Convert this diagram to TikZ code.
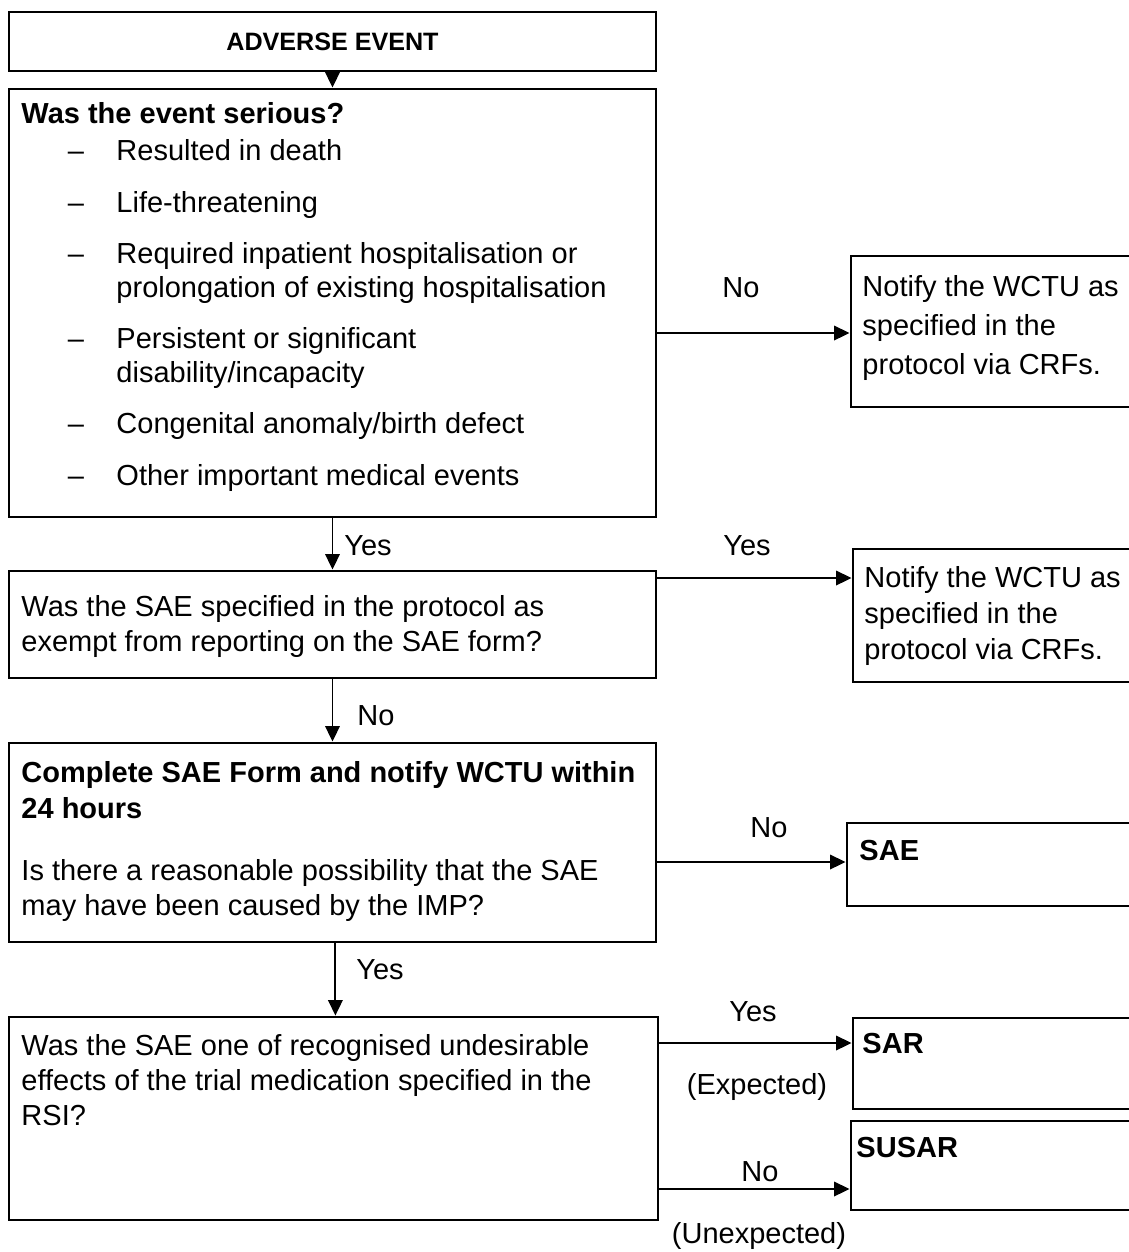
\documentclass[tikz,border=0pt]{standalone}
\usepackage{fontspec}
\setmainfont{Liberation Sans}
\usetikzlibrary{arrows.meta,fit}
\newcommand\myBody{\fontsize{12}{14}\selectfont}
\newcommand\myTitle{\fontsize{10.4}{12}\selectfont\bfseries}
\begin{document}
\begin{tikzpicture}[x=0.4138pt, y=-0.4138pt,
  box/.style={draw, line width=1.2pt, inner sep=0pt},
  arr/.style={line width=0.75pt, -{Triangle[length=6.4pt,width=6pt]}},
  txt/.style={anchor=base west, inner sep=0pt, font=\myBody},
  btxt/.style={anchor=base west, inner sep=0pt, font=\myBody\bfseries},
  dsh/.style={anchor=base, inner sep=0pt, font=\myBody},
  lbl/.style={anchor=base, inner sep=0pt, font=\myBody}]
\useasboundingbox (0,0) rectangle (1128,1252);

% boxes
\node[box, fit={(9,12) (656,71)}] (A) {};
\node[box, fit={(9,89) (656,517)}] (B) {};
\node[box, fit={(851,256) (1131,407)}] (C) {};
\node[box, fit={(9,571) (656,678)}] (D) {};
\node[box, fit={(853,549) (1131,682)}] (E) {};
\node[box, fit={(9,743) (656,942)}] (F) {};
\node[box, fit={(847,823) (1131,906)}] (G) {};
\node[box, fit={(9,1017) (658,1220)}] (H) {};
\node[box, fit={(853,1018) (1131,1109)}] (I) {};
\node[box, fit={(851,1121) (1131,1210)}] (J) {};

% texts
\node[font=\myTitle, inner sep=0pt] (Atxt) at (A.center) {ADVERSE EVENT};

\node[btxt] (B0) at (21,123) {Was the event serious?};
\node[dsh] (Bd1) at (76,160) {–};
\node[txt] (B1) at (116,160) {Resulted in death};
\node[dsh] (Bd2) at (76,212) {–};
\node[txt] (B2) at (116,212) {Life-threatening};
\node[dsh] (Bd3) at (76,263) {–};
\node[txt] (B3a) at (116,263) {Required inpatient hospitalisation or};
\node[txt] (B3b) at (116,297) {prolongation of existing hospitalisation};
\node[dsh] (Bd4) at (76,348) {–};
\node[txt] (B4a) at (116,348) {Persistent or significant};
\node[txt] (B4b) at (116,382) {disability/incapacity};
\node[dsh] (Bd5) at (76,433) {–};
\node[txt] (B5) at (116,433) {Congenital anomaly/birth defect};
\node[dsh] (Bd6) at (76,485) {–};
\node[txt] (B6) at (116,485) {Other important medical events};

\node[txt] (C1) at (862,296) {Notify the WCTU as};
\node[txt] (C2) at (862,335) {specified in the};
\node[txt] (C3) at (862,374) {protocol via CRFs.};

\node[txt] (D1) at (21,616) {Was the SAE specified in the protocol as};
\node[txt] (D2) at (21,651) {exempt from reporting on the SAE form?};

\node[txt] (E1) at (864,587) {Notify the WCTU as};
\node[txt] (E2) at (864,623) {specified in the};
\node[txt] (E3) at (864,659) {protocol via CRFs.};

\node[btxt] (F1) at (21,782) {Complete SAE Form and notify WCTU within};
\node[btxt] (F2) at (21,818) {24 hours};
\node[txt] (F3) at (21,880) {Is there a reasonable possibility that the SAE};
\node[txt] (F4) at (21,915) {may have been caused by the IMP?};

\node[btxt] (Gt) at (859,860) {SAE};

\node[txt] (H1) at (21,1055) {Was the SAE one of recognised undesirable};
\node[txt] (H2) at (21,1090) {effects of the trial medication specified in the};
\node[txt] (H3) at (21,1125) {RSI?};

\node[btxt] (It) at (862,1053) {SAR};
\node[btxt] (Jt) at (856,1157) {SUSAR};

% connector levels
\coordinate (yBC) at (0,333);
\coordinate (yDE) at (0,578);
\coordinate (yFG) at (0,862);
\coordinate (yHI) at (0,1043);
\coordinate (yHJ) at (0,1189);

% connectors
\draw[arr] (A.south) -- (B.north);
\draw[arr] (B.east |- yBC) -- (C.west |- yBC);
\draw[arr] (B.south) -- (D.north);
\draw[arr] (D.east |- yDE) -- (E.west |- yDE);
\draw[arr] (D.south) -- (F.north);
\draw[arr] (F.east |- yFG) -- (G.west |- yFG);
\draw[arr] ([xshift=1.2pt]F.south) -- ([xshift=1.2pt]F.south |- H.north);
\draw[arr] (H.east |- yHI) -- (I.west |- yHI);
\draw[arr] (H.east |- yHJ) -- (J.west |- yHJ);

% labels
\node[lbl] (lBC) at (741,297) {No};
\node[lbl] (lBD) at (368,555) {Yes};
\node[lbl] (lDE) at (747,555) {Yes};
\node[lbl] (lDF) at (376,725) {No};
\node[lbl] (lFG) at (769,837) {No};
\node[lbl] (lFH) at (380,979) {Yes};
\node[lbl] (lHI) at (753,1021) {Yes};
\node[lbl] (lHIb) at (757,1094) {(Expected)};
\node[lbl] (lHJ) at (760,1181) {No};
\node[lbl] (lHJb) at (759,1243) {(Unexpected)};
\end{tikzpicture}
\end{document}
